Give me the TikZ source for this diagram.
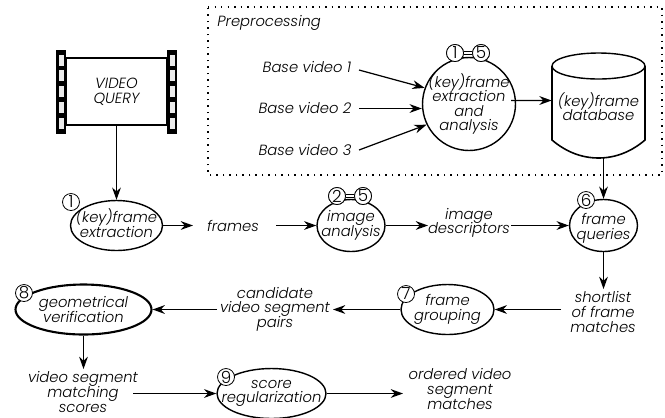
\documentclass[tikz,border=0pt]{standalone}
\usepackage{fontspec}
\setmainfont{Poppins Light}
\usetikzlibrary{shapes.geometric,arrows.meta}
\lineskiplimit=-10pt

\tikzset{
    flow/.style={-{Stealth[length=7pt,width=5pt]},line width=0.7pt},
    lbl/.style={font=\fontsize{8.4}{8.3}\selectfont\itshape,align=center,inner sep=0pt},
    oval/.style={draw,ellipse,line width=0.8pt,inner sep=0pt,minimum width=#1*0.02cm,minimum height=1cm},
    badge/.style={draw,circle,fill=white,line width=0.45pt,inner sep=0pt,minimum size=0.34cm,font=\fontsize{9.5}{9.5}\selectfont},
    link/.style={double,double distance=1.6pt,line width=0.5pt}
}

\begin{document}
\begin{tikzpicture}[x=0.02cm,y=-0.02cm]
    \useasboundingbox (0,0) rectangle (665,417);

    % preprocessing box
    \draw[line width=0.85pt,dash pattern=on 0.85pt off 2.85pt](208,7)--(662,7)--(662,175)--(208,175)--cycle;
    \node[lbl,anchor=west](pre)at(217,23){Preprocessing};

    % film strip
    \node[draw,line width=1pt,minimum width=2.02cm,minimum height=1.34cm,lbl](query)at(116.5,91.5){VIDEO\\QUERY};
    \foreach \x in {56,167}{
        \fill(\x,50)rectangle(\x+10,134);
        \foreach \y in {54.5,70,86,101.5,117.5}
            \fill[white!92!black](\x+2.5,\y)rectangle(\x+7.5,\y+11);
    }

    % base videos
    \node[lbl](base1)at(307,67){Base video 1};
    \node[lbl](base2)at(305,108){Base video 2};
    \node[lbl](base3)at(305,150){Base video 3};
    \node[draw,circle,line width=0.8pt,inner sep=0pt,minimum size=1.86cm,
        label={[lbl]center:(key)frame\\extraction\\and\\analysis}](extract)at(469,104){};
    \node[badge](ba)at(455,53){1};
    \node[badge](bb)at(481,53){5};
    \draw[link](ba)--(bb);
    \node[badge]at(455,53){1};
    \node[badge]at(481,53){5};

    % database
    \node[lbl,minimum width=1.86cm,minimum height=2.1cm](db)at(598.5,106.5){(key)frame\\database};
    \coordinate(dbout)at(603.5,158);
    \draw[line width=0.8pt,fill=white](552,66)arc[start angle=180,end angle=540,x radius=46.5,y radius=13];
    \draw[line width=0.9pt](552,66)--(552,140)..controls(566,152)and(582,158)..(598.5,158)
        ..controls(615,158)and(631,152)..(645,140)--(645,66);

    % first row
    \node[oval=92,label={[lbl,yshift=1.5pt]center:(key)frame\\extraction}](kfe)at(116.5,225.5){};
    \node[lbl](frames)at(233,225.5){frames};
    \node[oval=68,minimum height=1.04cm,label={[lbl]center:image\\analysis}](ima)at(351,225.5){};
    \node[lbl](desc)at(469,223){image\\descriptors};
    \node[oval=68,minimum height=1.04cm,label={[lbl,yshift=-1.5pt]center:frame\\queries}](fq)at(603.5,225.5){};
    \node[badge](b1)at(71,202){1};
    \node[badge](b2)at(337,196){2};
    \node[badge](b5)at(363,196){5};
    \draw[link](b2)--(b5);
    \node[badge]at(337,196){2};
    \node[badge]at(363,196){5};
    \node[badge](b6)at(586,200){6};

    % second row
    \node[lbl](short)at(603,312){shortlist\\of frame\\matches};
    \node[oval=93,label={[lbl]center:frame\\grouping}](fg)at(447.5,309.5){};
    \node[lbl](cand)at(275,309){candidate\\video segment\\pairs};
    \node[oval=136,line width=1.2pt,label={[lbl]center:geometrical\\verification}](geo)at(83.5,309.5){};
    \node[badge](b7)at(406,294){7};
    \node[badge](b8)at(24,293){8};

    % third row
    \node[lbl](vsm)at(83,392){video segment\\matching\\scores};
    \node[oval=109,label={[lbl]center:score\\regularization}](reg)at(271.5,393.5){};
    \node[lbl](ord)at(460,389){ordered video\\segment\\matches};
    \node[badge](b9)at(226,377){9};

    % connectors
    \draw[flow](359,70)--(extract.160);
    \draw[flow](359,108.5)--(extract.west|-0,108.5);
    \draw[flow](359,150)--(extract.206);
    \draw[flow]([shift={(-5,-3.5)}]extract.east)--(db.west|-0,100.5);
    \draw[flow](query.south)--(kfe.north);
    \draw[flow](dbout)--(fq.north);
    \draw[flow](kfe.east)--(193,225.5);
    \draw[flow](276,225.5)--(ima.west);
    \draw[flow](ima.east)--(428,225.5);
    \draw[flow](511,225.5)--(fq.west);
    \draw[flow](fq.south)--(603.5,289);
    \draw[flow](561,309.5)--(fg.east);
    \draw[flow](fg.west)--(333,309.5);
    \draw[flow](217,309.5)--(geo.east);
    \draw[flow](geo.south)--(83.5,369);
    \draw[flow](133,393.5)--(reg.west);
    \draw[flow](reg.east)--(403,393.5);
\end{tikzpicture}
\end{document}
